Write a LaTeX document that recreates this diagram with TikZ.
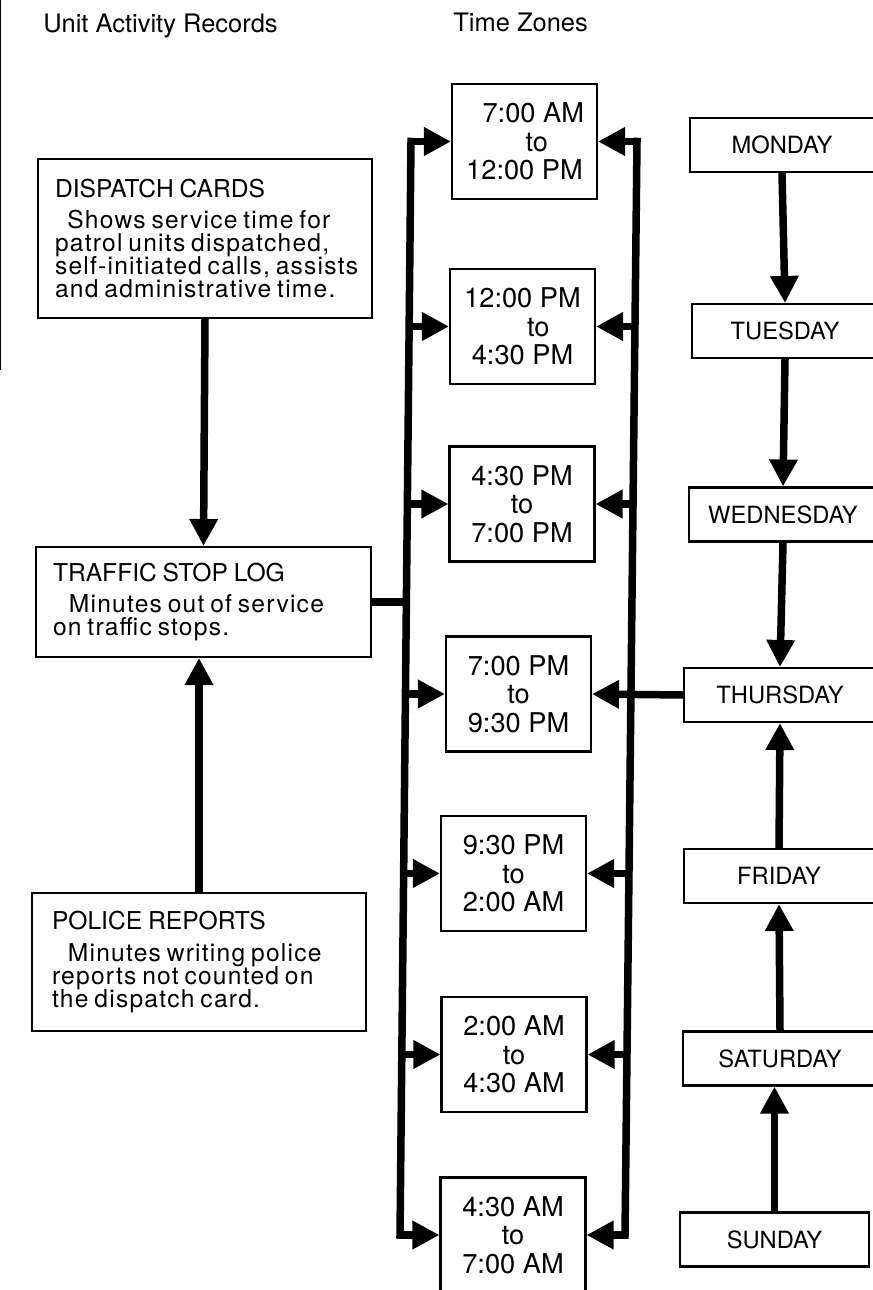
\documentclass[tikz,border=0pt]{standalone}
\usepackage{fontspec}
\setmainfont{TeX Gyre Heros}
\newfontfamily\bodyfam[LetterSpace=5]{TeX Gyre Heros}
\usetikzlibrary{arrows.meta}
\setlength{\parindent}{0pt}
\setlength{\parskip}{0pt}
\newcommand\hdf{\fontsize{14pt}{16pt}\selectfont}
\newcommand\bdf{\bodyfam\fontsize{14pt}{13.1pt}\selectfont\lineskiplimit=-100pt\relax}
\newcommand\tmf{\fontsize{15.5pt}{16.2pt}\selectfont\lineskiplimit=-100pt\relax}
\newcommand\dyf{\fontsize{13.5pt}{15pt}\selectfont}
\newcommand\ttlf{\fontsize{14.5pt}{16pt}\selectfont}
\begin{document}
\begin{tikzpicture}[x=0.02cm,y=-0.02cm,
  bx/.style={draw, line width=1.2pt, inner sep=0pt},
  rec/.style={bx, align=left, inner xsep=0.34cm},
  tz/.style={bx, align=center, font=\tmf, minimum width=2.9cm, minimum height=2.3cm},
  day/.style={bx, font=\dyf, minimum height=1.08cm},
  ttl/.style={anchor=base west, inner sep=0pt, font=\ttlf},
  conn/.style={line width=0.15cm},
  arr/.style={conn, -{Triangle[length=0.54cm,width=0.54cm]}},
  bus/.style={conn, line cap=rect},
]
\useasboundingbox (0,0) rectangle (872,1290);

% scan edge line
\draw[line width=0.7pt] (0.8,0) -- (0.8,370);

% titles
\node[ttl] (t1) at (43,33) {Unit Activity Records};
\node[ttl] (t2) at (453,32) {Time Zones};

% record boxes
\node[rec, text width=6.0cm, minimum width=6.68cm, minimum height=3.18cm] (disp) at (205,238.5)
 {{\hdf DISPATCH CARDS\par}\vspace{5pt}{\bdf\mbox{\hspace*{7pt}Shows service time for}\\\mbox{patrol units dispatched,}\\\mbox{self-initiated calls, assists}\\\mbox{and administrative time.}\par}};
\node[rec, text width=6.02cm, minimum width=6.7cm, minimum height=2.2cm] (traffic) at (203.5,602)
 {{\hdf TRAFFIC STOP LOG\par}\vspace{5pt}{\bdf\mbox{\hspace*{9pt}Minutes out of service}\\\mbox{on traffic stops.}\par}};
\node[rec, inner xsep=0.4cm, text width=5.88cm, minimum width=6.68cm, minimum height=2.76cm] (police) at (199,962)
 {{\hdf POLICE REPORTS\par}\vspace{5pt}{\bdf\mbox{\hspace*{9pt}Minutes writing police}\\\mbox{reports not counted on}\\\mbox{the dispatch card.}\par}};

% time zone boxes
\node[tz] (tb1) at (524.5,141.5) {\hspace*{10pt}7:00 AM\\\hspace*{14pt}to\\12:00 PM};
\node[tz] (tb2) at (522.5,326.5) {12:00 PM\\\hspace*{18pt}to\\4:30 PM};
\node[tz] (tb3) at (522,504) {4:30 PM\\to\\7:00 PM};
\node[tz] (tb4) at (518.5,694) {7:00 PM\\to\\9:30 PM};
\node[tz] (tb5) at (513.5,873.5) {9:30 PM\\to\\2:00 AM};
\node[tz] (tb6) at (514,1054.5) {2:00 AM\\to\\4:30 AM};
\node[tz] (tb7) at (513,1235) {4:30 AM\\to\\7:00 AM};

% day boxes
\node[day, minimum width=3.68cm] (mon) at (782,145) {MONDAY};
\node[day, minimum width=3.72cm] (tue) at (785,331) {TUESDAY};
\node[day, minimum width=3.76cm] (wed) at (783,514.5) {WEDNESDAY};
\node[day, minimum width=3.84cm] (thu) at (780,695) {THURSDAY};
\node[day, minimum width=3.8cm] (fri) at (779,876) {FRIDAY};
\node[day, minimum width=3.88cm] (sat) at (780,1058.5) {SATURDAY};
\node[day, minimum width=3.78cm] (sun) at (774.5,1239.5) {SUNDAY};

% bus coordinates
\coordinate (L1) at (411,141.5);
\coordinate (L2) at (409.1,326.5);
\coordinate (L3) at (407.4,504);
\coordinate (LT) at (406.4,602);
\coordinate (L4) at (405.5,694);
\coordinate (L5) at (403.6,873.5);
\coordinate (L6) at (401.8,1054.5);
\coordinate (L7) at (400,1235);
\coordinate (R1) at (637,141.5);
\coordinate (R2) at (635,326.5);
\coordinate (R3) at (633,504);
\coordinate (R5) at (629,873.5);
\coordinate (R6) at (627,1054.5);
\coordinate (R7) at (625,1235);

% record connectors
\draw[arr] (disp.south) -- (traffic.north);
\draw[arr] (police.north) -- (police.north |- traffic.south);
\draw[conn] (traffic.east) -- (LT);

% left bus
\draw[bus] (L1) -- (L7);
\draw[arr] (L1) -- (tb1.west);
\draw[arr] (L2) -- (tb2.west);
\draw[arr] (L3) -- (tb3.west);
\draw[arr] (L4) -- (tb4.west);
\draw[arr] (L5) -- (tb5.west);
\draw[arr] (L6) -- (tb6.west);
\draw[arr] (L7) -- (tb7.west);

% right bus
\draw[bus] (R1) -- (R7);
\draw[arr] (R1) -- (tb1.east);
\draw[arr] (R2) -- (tb2.east);
\draw[arr] (R3) -- (tb3.east);
\draw[arr] (R5) -- (tb5.east);
\draw[arr] (R6) -- (tb6.east);
\draw[arr] (R7) -- (tb7.east);
\draw[arr] (thu.west) -- (tb4.east);

% day connectors
\draw[arr] (mon.south) -- (tue.north);
\draw[arr] (tue.south) -- (wed.north);
\draw[arr] (wed.south) -- (thu.north);
\draw[arr] (fri.north) -- (thu.south);
\draw[arr] (sat.north) -- (fri.south);
\draw[arr] (sun.north) -- (sun.north |- sat.south);
\end{tikzpicture}
\end{document}
